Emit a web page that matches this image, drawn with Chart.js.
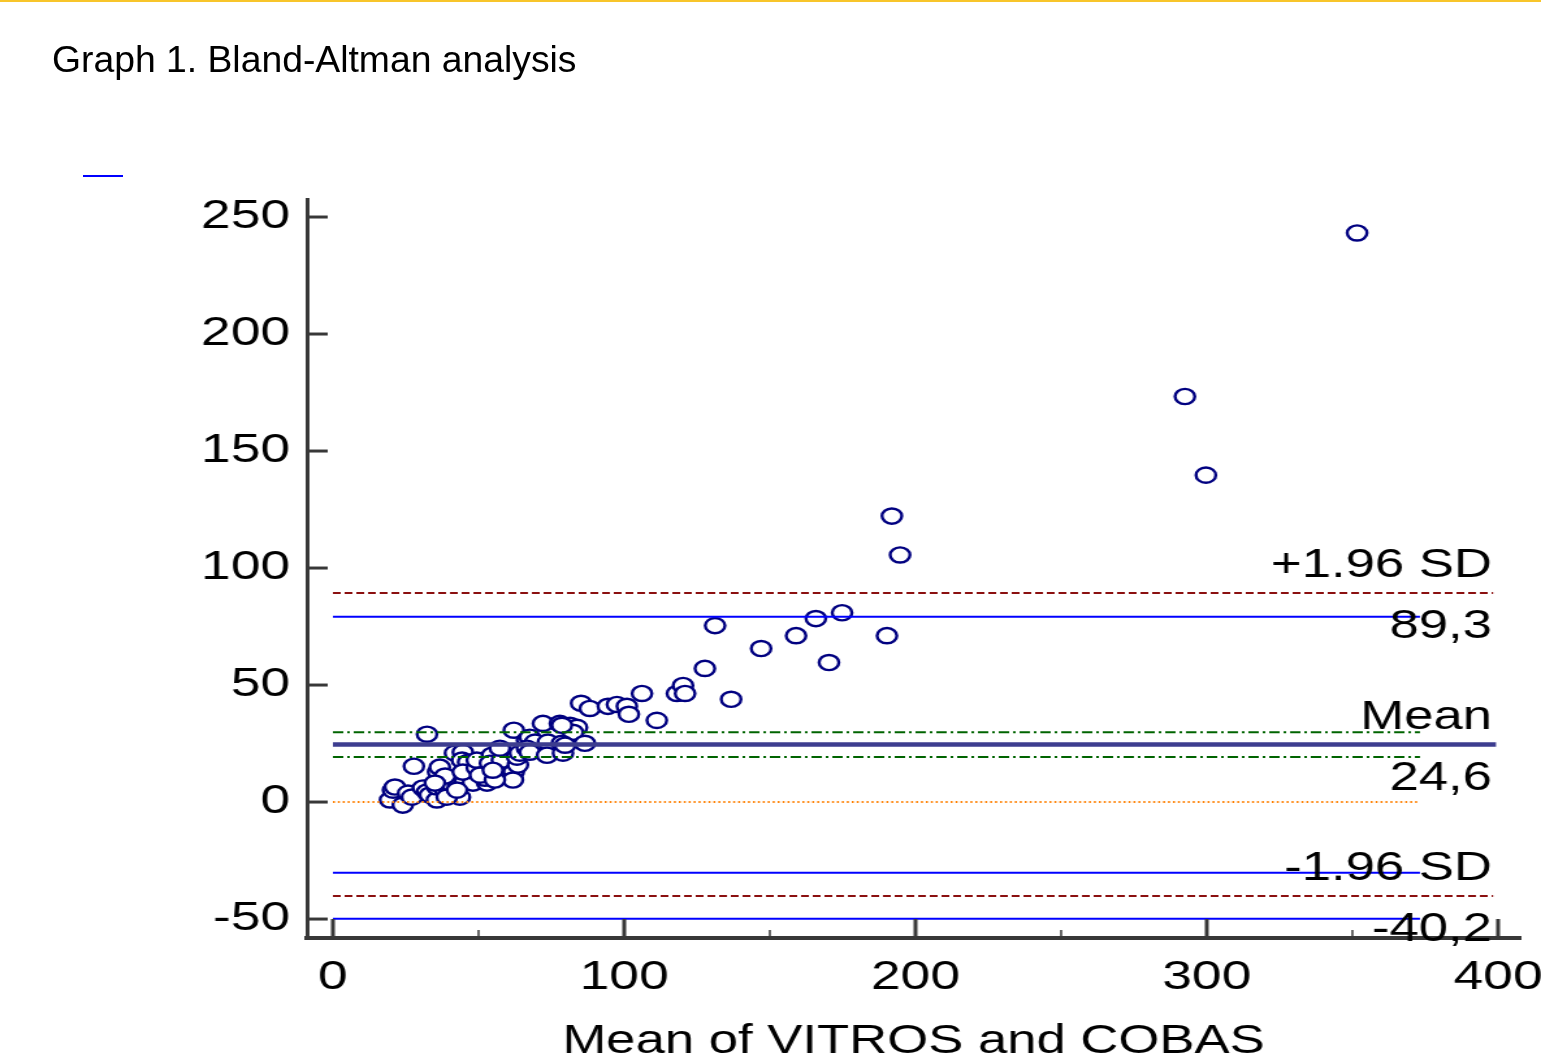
<!DOCTYPE html>
<html>
<head>
<meta charset="utf-8">
<script src="https://cdn.jsdelivr.net/npm/chart.js@4.4.1/dist/chart.umd.min.js"></script>
<style>
html, body { margin: 0; padding: 0; background: #fff; overflow: hidden; }
#wrap { position: relative; width: 1541px; height: 1059px; }
#topline { position: absolute; left: 0; top: 0; width: 1541px; height: 2px; background: #f8c52a; }
#title { position: absolute; left: 52px; top: 41px; font: 37.3px/37px "Liberation Sans", Arial, sans-serif; color: #000; white-space: nowrap; }
#dash { position: absolute; left: 83px; top: 175px; width: 40px; height: 2px; background: #0000ff; }
#chart { position: absolute; left: 0; top: 0; transform-origin: 0 0; transform: scaleX(1.30042); }
</style>
</head>
<body>
<div id="wrap">
  <canvas id="chart" width="1185" height="1059"></canvas>
  <div id="topline"></div>
  <div id="title">Graph 1. Bland-Altman analysis</div>
  <div id="dash"></div>
</div>
<script>
// mean of the two methods
const meanX = [
  19.6, 20.6, 21.3, 24.0, 25.8, 27.1, 30.9, 32.3, 33.3, 35.7, 35.7, 38.5, 40.2, 41.2, 43.6, 42.9, 45.3, 48.1, 52.9, 52.2,
  27.8, 36.1, 36.7, 38.5, 35.0, 41.9, 44.6, 44.3, 46.4, 44.6, 49.4, 49.4, 50.5, 54.6, 53.9, 58.4, 58.0, 61.5, 62.1, 61.8,
  63.5, 63.2, 64.2, 55.6, 54.9, 57.3, 39.1, 42.6,
  32.3, 62.1, 66.6, 67.6, 69.4, 66.6, 67.6, 72.1, 73.8, 73.5, 77.9, 81.4, 83.8, 82.4, 78.6, 79.0, 86.5, 79.7, 78.6,
  85.2, 88.2, 94.4, 97.5, 100.9, 101.6, 106.1, 111.2, 118.1, 120.2, 120.9, 127.7, 131.2, 136.7, 147.0, 159.0, 165.8,
  174.8, 170.3, 190.2, 191.9, 194.7, 292.5, 299.7, 351.6
];
// difference between the two methods
const diffY = [
  0.9, 5.1, 6.4, -1.3, 3.8, 2.1, 6.0, 4.3, 3.0, 0.9, 6.4, 5.1, 6.0, 7.2, 2.1, 7.2, 8.5, 8.1, 8.1, 10.2,
  15.3, 12.8, 14.9, 11.1, 8.1, 20.9, 21.3, 17.9, 17.0, 12.8, 14.5, 17.9, 11.5, 20.0, 16.6, 14.9, 17.9, 10.2, 12.8, 9.4,
  15.8, 19.2, 20.9, 9.4, 13.6, 23.0, 2.1, 5.1,
  29.0, 30.7, 26.4, 27.7, 25.6, 23.0, 21.3, 33.6, 25.6, 20.0, 33.6, 32.8, 31.9, 29.8, 25.1, 20.9, 25.1, 24.3, 32.8,
  42.2, 40.0, 40.9, 41.7, 40.9, 37.5, 46.4, 34.9, 46.4, 49.8, 46.4, 57.1, 75.4, 43.9, 65.6, 71.1, 78.4,
  80.9, 59.6, 71.1, 122.2, 105.6, 173.3, 139.7, 243.2
];

const yTickValues = [-50, 0, 50, 100, 150, 200, 250];
const xTickValues = [0, 100, 200, 300, 400];
const xMinorTicks = [50, 150, 250, 350];

const limitValues = [89.3, 24.6, -40.2];
const limitNames = ['+1.96 SD', 'Mean', '-1.96 SD'];
const limitTexts = ['89,3', '24,6', '-40,2'];
const ciLimitLines = [79.2, -30.2, -49.9];
const ciMeanLines = [29.8, 19.3];
const zeroLine = 0;
const shortEnd = 373.2;
const longEnd = 398.3;
const meanEnd = 399.3;
const labelX = 397.9;

const FONT = '"Liberation Sans", Arial, sans-serif';

function hLine(y, xEnd, color, width, dash) {
  return {
    data: [{x: 0, y: y}, {x: xEnd, y: y}],
    showLine: true,
    borderColor: color,
    borderWidth: width,
    borderDash: dash,
    pointRadius: 0,
    fill: false
  };
}

const points = meanX.map((v, i) => ({x: v, y: diffY[i]}));

const datasets = [
  hLine(limitValues[1], meanEnd, '#3d3d8f', 4.5, []),
  hLine(limitValues[0], longEnd, '#8b1010', 2, [6, 3]),
  hLine(limitValues[2], longEnd, '#8b1010', 2, [6, 3]),
  hLine(ciLimitLines[0], shortEnd, '#0000ff', 2, []),
  hLine(ciLimitLines[1], shortEnd, '#0000ff', 2, []),
  hLine(ciLimitLines[2], shortEnd, '#0000ff', 2, []),
  hLine(ciMeanLines[0], shortEnd, '#006400', 2, [8, 3, 2, 3]),
  hLine(ciMeanLines[1], shortEnd, '#006400', 2, [8, 3, 2, 3]),
  hLine(zeroLine, shortEnd, '#ff8000', 2, [1.5, 2.3]),
  {
    data: points,
    pointStyle: 'circle',
    pointRadius: 7.6,
    pointBorderWidth: 2.4,
    pointBorderColor: '#000080',
    pointBackgroundColor: '#ffffff'
  }
];

// ticks pointing into the plot, like the original
const inwardTicks = {
  id: 'inwardTicks',
  afterDraw(chart) {
    const ctx = chart.ctx;
    const area = chart.chartArea;
    const xs = chart.scales.x, ys = chart.scales.y;
    ctx.save();
    ctx.strokeStyle = '#383838';
    ctx.lineWidth = 3;
    yTickValues.forEach(v => {
      const p = ys.getPixelForValue(v);
      ctx.beginPath();
      ctx.moveTo(area.left, p);
      ctx.lineTo(area.left + 16, p);
      ctx.stroke();
    });
    xTickValues.forEach(v => {
      const p = xs.getPixelForValue(v);
      ctx.beginPath();
      ctx.moveTo(p, area.bottom);
      ctx.lineTo(p, area.bottom - 19);
      ctx.stroke();
    });
    ctx.lineWidth = 1.5;
    xMinorTicks.forEach(v => {
      const p = xs.getPixelForValue(v);
      ctx.beginPath();
      ctx.moveTo(p, area.bottom);
      ctx.lineTo(p, area.bottom - 8);
      ctx.stroke();
    });
    ctx.restore();
  }
};

const limitLabels = {
  id: 'limitLabels',
  afterDatasetsDraw(chart) {
    const ctx = chart.ctx;
    const xs = chart.scales.x, ys = chart.scales.y;
    const px = xs.getPixelForValue(labelX);
    ctx.save();
    ctx.font = '40.5px ' + FONT;
    ctx.fillStyle = '#000';
    ctx.textAlign = 'right';
    ctx.textBaseline = 'middle';
    limitValues.forEach((v, i) => {
      const py = ys.getPixelForValue(v);
      ctx.fillText(limitNames[i], px, py - 27);
      ctx.fillText(limitTexts[i], px, py + 34);
    });
    ctx.restore();
  }
};

new Chart(document.getElementById('chart'), {
  type: 'scatter',
  data: { datasets: datasets },
  options: {
    responsive: false,
    animation: false,
    layout: { padding: { top: 199, right: 16, left: 0, bottom: 0 } },
    plugins: { legend: { display: false }, tooltip: { enabled: false } },
    scales: {
      x: {
        type: 'linear',
        min: -8.93,
        max: 407.6,
        grid: { display: false, drawTicks: false },
        border: { display: true, color: '#383838', width: 4 },
        ticks: { color: '#000', font: { family: FONT, size: 41 }, padding: 15, autoSkip: false, maxRotation: 0 },
        afterBuildTicks: s => { s.ticks = xTickValues.map(v => ({value: v})); },
        afterFit: s => { s.height = 121; s.paddingLeft = 0; s.paddingRight = 0; },
        title: {
          display: true,
          text: 'Mean of VITROS and COBAS',
          color: '#000',
          font: { family: FONT, size: 40.5, lineHeight: 1 },
          padding: { top: 0, bottom: -3 }
        }
      },
      y: {
        type: 'linear',
        min: -58.1,
        max: 257.7,
        grid: { display: false, drawTicks: false },
        border: { display: true, color: '#383838', width: 3 },
        ticks: { color: '#000', font: { family: FONT, size: 41 }, padding: 13, autoSkip: false },
        afterBuildTicks: s => { s.ticks = yTickValues.map(v => ({value: v})); },
        afterFit: s => { s.width = 236; s.paddingTop = 0; s.paddingBottom = 0; }
      }
    }
  },
  plugins: [inwardTicks, limitLabels]
});
</script>
</body>
</html>
